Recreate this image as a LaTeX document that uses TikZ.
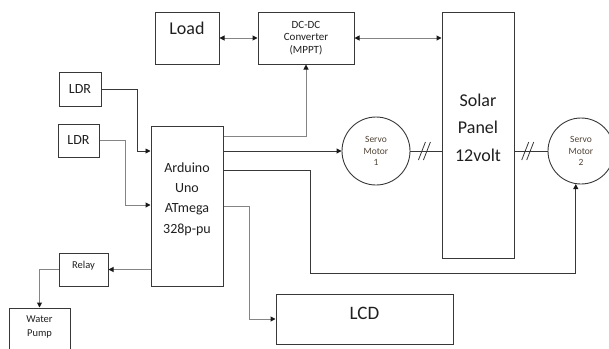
\documentclass[tikz,border=0pt]{standalone}
\usepackage{fontspec}
\setmainfont{Carlito}
\usetikzlibrary{arrows.meta}
\definecolor{boxc}{gray}{0.22}
\definecolor{darkc}{gray}{0.22}
\definecolor{lightc}{gray}{0.52}
\definecolor{tipc}{gray}{0.1}
\definecolor{txtc}{gray}{0.12}
\definecolor{motc}{RGB}{80,66,52}
\newcommand\fsz[2]{\fontsize{#1}{#2}\selectfont}
\begin{document}
\begin{tikzpicture}[x=1pt,y=-1pt,
  box/.style={draw=boxc, line width=1pt, inner sep=0pt, rectangle, text=txtc},
  motor/.style={draw=darkc, line width=0.9pt, circle, inner sep=0pt, align=center, text=motc, font=\fsz{9.5}{11.5}},
  lbl/.style={anchor=center, align=center, text=txtc, inner sep=0pt},
  ln/.style={draw=darkc, line width=0.9pt},
  lg/.style={draw=lightc, line width=1pt},
  tip/.style={-{Triangle[length=5pt,width=5pt,color=tipc]}},
  dtip/.style={{Triangle[length=5pt,width=5pt,color=tipc]}-{Triangle[length=5pt,width=5pt,color=tipc]}},
  mk/.style={draw=darkc, line width=0.8pt}
]
\useasboundingbox (0,0) rectangle (609,348);
\clip (0,0) rectangle (609,348);

% boxes
\node[box, minimum width=64pt, minimum height=52pt,
  label={[lbl, font=\fsz{18}{21}, yshift=-17pt]north:Load}] (load) at (187,38) {};
\node[box, minimum width=96pt, minimum height=52pt, align=center, font=\fsz{11}{12.5}] (dcdc) at (306,38) {DC-DC\\Converter\\(MPPT)};
\node[box, minimum width=72pt, minimum height=246pt,
  label={[lbl, font=\fsz{18}{27.5}, yshift=-116pt]north:{Solar\\Panel\\12volt}}] (solar) at (478,135) {};
\node[box, minimum width=42pt, minimum height=34pt, font=\fsz{14}{16}] (ldr1) at (80,89) {LDR};
\node[box, minimum width=41pt, minimum height=33pt, font=\fsz{14}{16}] (ldr2) at (78.5,140.5) {LDR};
\node[box, minimum width=72pt, minimum height=160pt,
  label={[lbl, font=\fsz{14}{20.3}, yshift=-73.5pt]north:{Arduino\\Uno\\ATmega\\328p-pu}}] (ard) at (187,206) {};
\node[box, minimum width=49pt, minimum height=33pt,
  label={[lbl, font=\fsz{10.5}{13}, yshift=-13pt]north:Relay}] (relay) at (83.5,269.5) {};
\node[box, minimum width=61pt, minimum height=56pt,
  label={[lbl, font=\fsz{10.5}{14}, yshift=-19pt]north:{Water\\Pump}}] (pump) at (39.5,336) {};
\node[box, minimum width=177pt, minimum height=50pt,
  label={[lbl, font=\fsz{19}{22}, yshift=-20pt]north:LCD}] (lcd) at (364.5,319) {};
\node[motor, minimum size=68pt] (s1) at (376,151) {Servo\\Motor\\1};
\node[motor, minimum size=66pt] (s2) at (581,151) {Servo\\Motor\\2};

% connectors
\draw[lg,dtip] (load.east) -- (dcdc.west);
\draw[lg,dtip] (dcdc.east) -- (dcdc.east -| solar.west);
\draw[ln,tip] (ldr1.east) -- ++(36,0) |- ([yshift=55pt]ard.west);
\draw[lg,tip] (ldr2.east) -- ++(26,0) |- ([yshift=1pt]ard.west);
\draw[lg,tip] ([yshift=70pt]ard.east) -| (dcdc.south);
\draw[ln,tip] (ard.east |- s1.west) -- (s1.west);
\draw[ln,tip] ([yshift=36pt]ard.east) -- ++(87,0) -- ++(0,103) -| (s2.-99);
\draw[lg,tip] (ard.east) -- ++(26,0) |- (lcd.west);
\draw[lg,tip] (ard.west |- relay.east) -- (relay.east);
\draw[lg,tip] (relay.west) -| (pump.north);

% servo 1 -- panel, panel -- servo 2 with marks
\draw[ln] (s1.east) -- coordinate[pos=0.45] (m1) (s1.east -| solar.west);
\draw[mk] ([shift={(-6,9)}]m1) -- ([shift={(1,-9)}]m1);
\draw[mk] ([shift={(-1,9)}]m1) -- ([shift={(6,-9)}]m1);
\draw[ln] (solar.east |- s2.west) -- coordinate[pos=0.4] (m2) (s2.west);
\draw[mk] ([shift={(-6,9)}]m2) -- ([shift={(1,-9)}]m2);
\draw[mk] ([shift={(-1,9)}]m2) -- ([shift={(6,-9)}]m2);
\end{tikzpicture}
\end{document}
